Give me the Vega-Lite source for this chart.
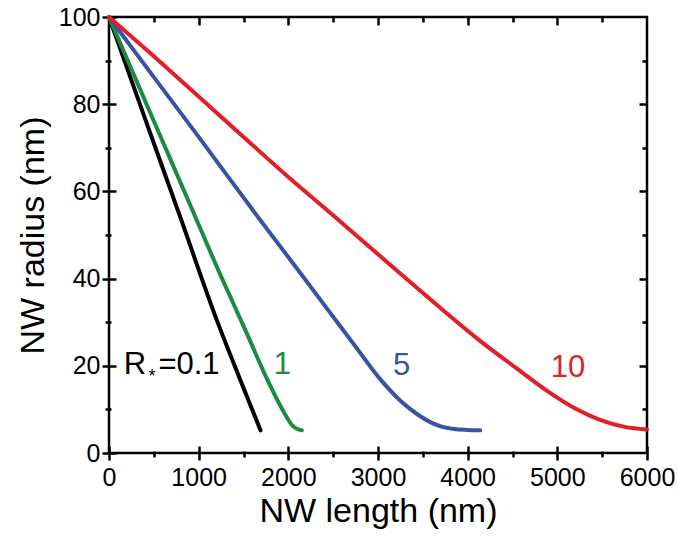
{
  "$schema": "https://vega.github.io/schema/vega-lite/v6.json",
  "autosize": "none",
  "width": 538,
  "height": 436,
  "padding": {"left": 109, "top": 17, "right": 31, "bottom": 89},
  "background": "white",
  "config": {
    "view": {"stroke": "black", "strokeWidth": 2.5},
    "font": "Liberation Sans",
    "axis": {"grid": false, "domain": false, "tickColor": "black", "tickWidth": 2.5, "labelColor": "black", "titleColor": "black", "labelFont": "Liberation Sans", "titleFont": "Liberation Sans", "titleFontWeight": "normal", "labelFontSize": 25, "titleFontSize": 34, "labelFlush": false}
  },
  "datasets": {
    "curves": [
      {"series": "0.1", "x": 0, "y": 100}, {"series": "0.1", "x": 400, "y": 76.8}, {"series": "0.1", "x": 800, "y": 53.8}, {"series": "0.1", "x": 1200, "y": 30.6}, {"series": "0.1", "x": 1450, "y": 17.5}, {"series": "0.1", "x": 1690, "y": 5.2},
      {"series": "1", "x": 0, "y": 100}, {"series": "1", "x": 450, "y": 78.5}, {"series": "1", "x": 903, "y": 57}, {"series": "1", "x": 1250, "y": 40.5}, {"series": "1", "x": 1536, "y": 27.5}, {"series": "1", "x": 1750, "y": 17.5}, {"series": "1", "x": 1944, "y": 9.6}, {"series": "1", "x": 2050, "y": 6.2}, {"series": "1", "x": 2100, "y": 5.5}, {"series": "1", "x": 2150, "y": 5.2},
      {"series": "5", "x": 0, "y": 100}, {"series": "5", "x": 500, "y": 86.2}, {"series": "5", "x": 1000, "y": 72.5}, {"series": "5", "x": 1665, "y": 54}, {"series": "5", "x": 2100, "y": 42.2}, {"series": "5", "x": 2465, "y": 32.2}, {"series": "5", "x": 2750, "y": 24.4}, {"series": "5", "x": 3022, "y": 17}, {"series": "5", "x": 3250, "y": 12}, {"series": "5", "x": 3431, "y": 9}, {"series": "5", "x": 3600, "y": 6.9}, {"series": "5", "x": 3700, "y": 6.1}, {"series": "5", "x": 3850, "y": 5.5}, {"series": "5", "x": 4000, "y": 5.3}, {"series": "5", "x": 4140, "y": 5.2},
      {"series": "10", "x": 0, "y": 100}, {"series": "10", "x": 500, "y": 91}, {"series": "10", "x": 1015, "y": 81.5}, {"series": "10", "x": 1500, "y": 72.5}, {"series": "10", "x": 2000, "y": 63.3}, {"series": "10", "x": 2540, "y": 53.8}, {"series": "10", "x": 3000, "y": 45.6}, {"series": "10", "x": 3245, "y": 41.2}, {"series": "10", "x": 3700, "y": 33.2}, {"series": "10", "x": 4171, "y": 25.2}, {"series": "10", "x": 4547, "y": 19.4}, {"series": "10", "x": 4918, "y": 13.8}, {"series": "10", "x": 5200, "y": 10.2}, {"series": "10", "x": 5476, "y": 7.6}, {"series": "10", "x": 5750, "y": 6}, {"series": "10", "x": 6000, "y": 5.4}
    ],
    "labels": [
      {"series": "0.1", "label": "R", "x": 290, "y": 18.2},
      {"series": "0.1", "label": "=0.1", "x": 892, "y": 18.2},
      {"series": "1", "label": "1", "x": 1934, "y": 18.2},
      {"series": "5", "label": "5", "x": 3264, "y": 17.9},
      {"series": "10", "label": "10", "x": 5120, "y": 17.5}
    ],
    "star": [
      {"series": "0.1", "label": "*", "x": 480, "y": 16.3}
    ]
  },
  "resolve": {"axis": {"x": "independent", "y": "independent"}},
  "layer": [
    {
      "data": {"name": "curves"},
      "transform": [{"filter": "datum.series === '0.1' || datum.series === '1'"}],
      "mark": {"type": "line", "strokeWidth": 4, "interpolate": "monotone", "strokeCap": "round"},
      "encoding": {
        "x": {"field": "x", "type": "quantitative", "scale": {"domain": [0, 6000], "nice": false},
          "axis": {"orient": "bottom", "values": [0,1000,2000,3000,4000,5000,6000], "format": "d",
            "offset": -7, "tickSize": 14, "labelPadding": 5, "title": "NW length (nm)", "titlePadding": 4}},
        "y": {"field": "y", "type": "quantitative", "scale": {"domain": [0, 100], "nice": false},
          "axis": {"orient": "left", "values": [0,20,40,60,80,100], "format": "d",
            "offset": -7, "tickSize": 14, "labelPadding": 2, "title": "NW radius (nm)", "titlePadding": 8}},
        "color": {"field": "series", "type": "nominal", "scale": {"domain": ["0.1", "1", "5", "10"], "range": ["#000000", "#1b8a42", "#3953a4", "#e41e26"]}, "legend": null},
        "detail": {"field": "series"}
      }
    },
    {
      "data": {"name": "curves"},
      "transform": [{"filter": "datum.series === '5' || datum.series === '10'"}],
      "mark": {"type": "line", "strokeWidth": 4, "interpolate": "monotone", "strokeCap": "round"},
      "encoding": {
        "x": {"field": "x", "type": "quantitative",
          "axis": {"orient": "bottom", "values": [500,1500,2500,3500,4500,5500], "labels": false, "title": null, "offset": -2, "tickSize": 6}},
        "y": {"field": "y", "type": "quantitative",
          "axis": {"orient": "left", "values": [10,30,50,70,90], "labels": false, "title": null, "offset": -2, "tickSize": 6}},
        "color": {"field": "series", "type": "nominal", "legend": null},
        "detail": {"field": "series"}
      }
    },
    {
      "data": {"name": "labels"},
      "mark": {"type": "text", "fontSize": 31, "baseline": "alphabetic", "align": "center", "font": "Liberation Sans"},
      "encoding": {
        "x": {"field": "x", "type": "quantitative",
          "axis": {"orient": "top", "values": [1000,2000,3000,4000,5000], "labels": false, "title": null, "offset": -8, "tickSize": 8}},
        "y": {"field": "y", "type": "quantitative",
          "axis": {"orient": "right", "values": [20,40,60,80], "labels": false, "title": null, "offset": -8, "tickSize": 8}},
        "text": {"field": "label"},
        "color": {"field": "series", "type": "nominal", "legend": null}
      }
    },
    {
      "data": {"name": "star"},
      "mark": {"type": "text", "fontSize": 18, "baseline": "alphabetic", "align": "center", "font": "Liberation Sans"},
      "encoding": {
        "x": {"field": "x", "type": "quantitative",
          "axis": {"orient": "top", "values": [500,1500,2500,3500,4500,5500], "labels": false, "title": null, "offset": -5, "tickSize": 5}},
        "y": {"field": "y", "type": "quantitative",
          "axis": {"orient": "right", "values": [10,30,50,70,90], "labels": false, "title": null, "offset": -5, "tickSize": 5}},
        "text": {"field": "label"},
        "color": {"field": "series", "type": "nominal", "legend": null}
      }
    }
  ]
}
